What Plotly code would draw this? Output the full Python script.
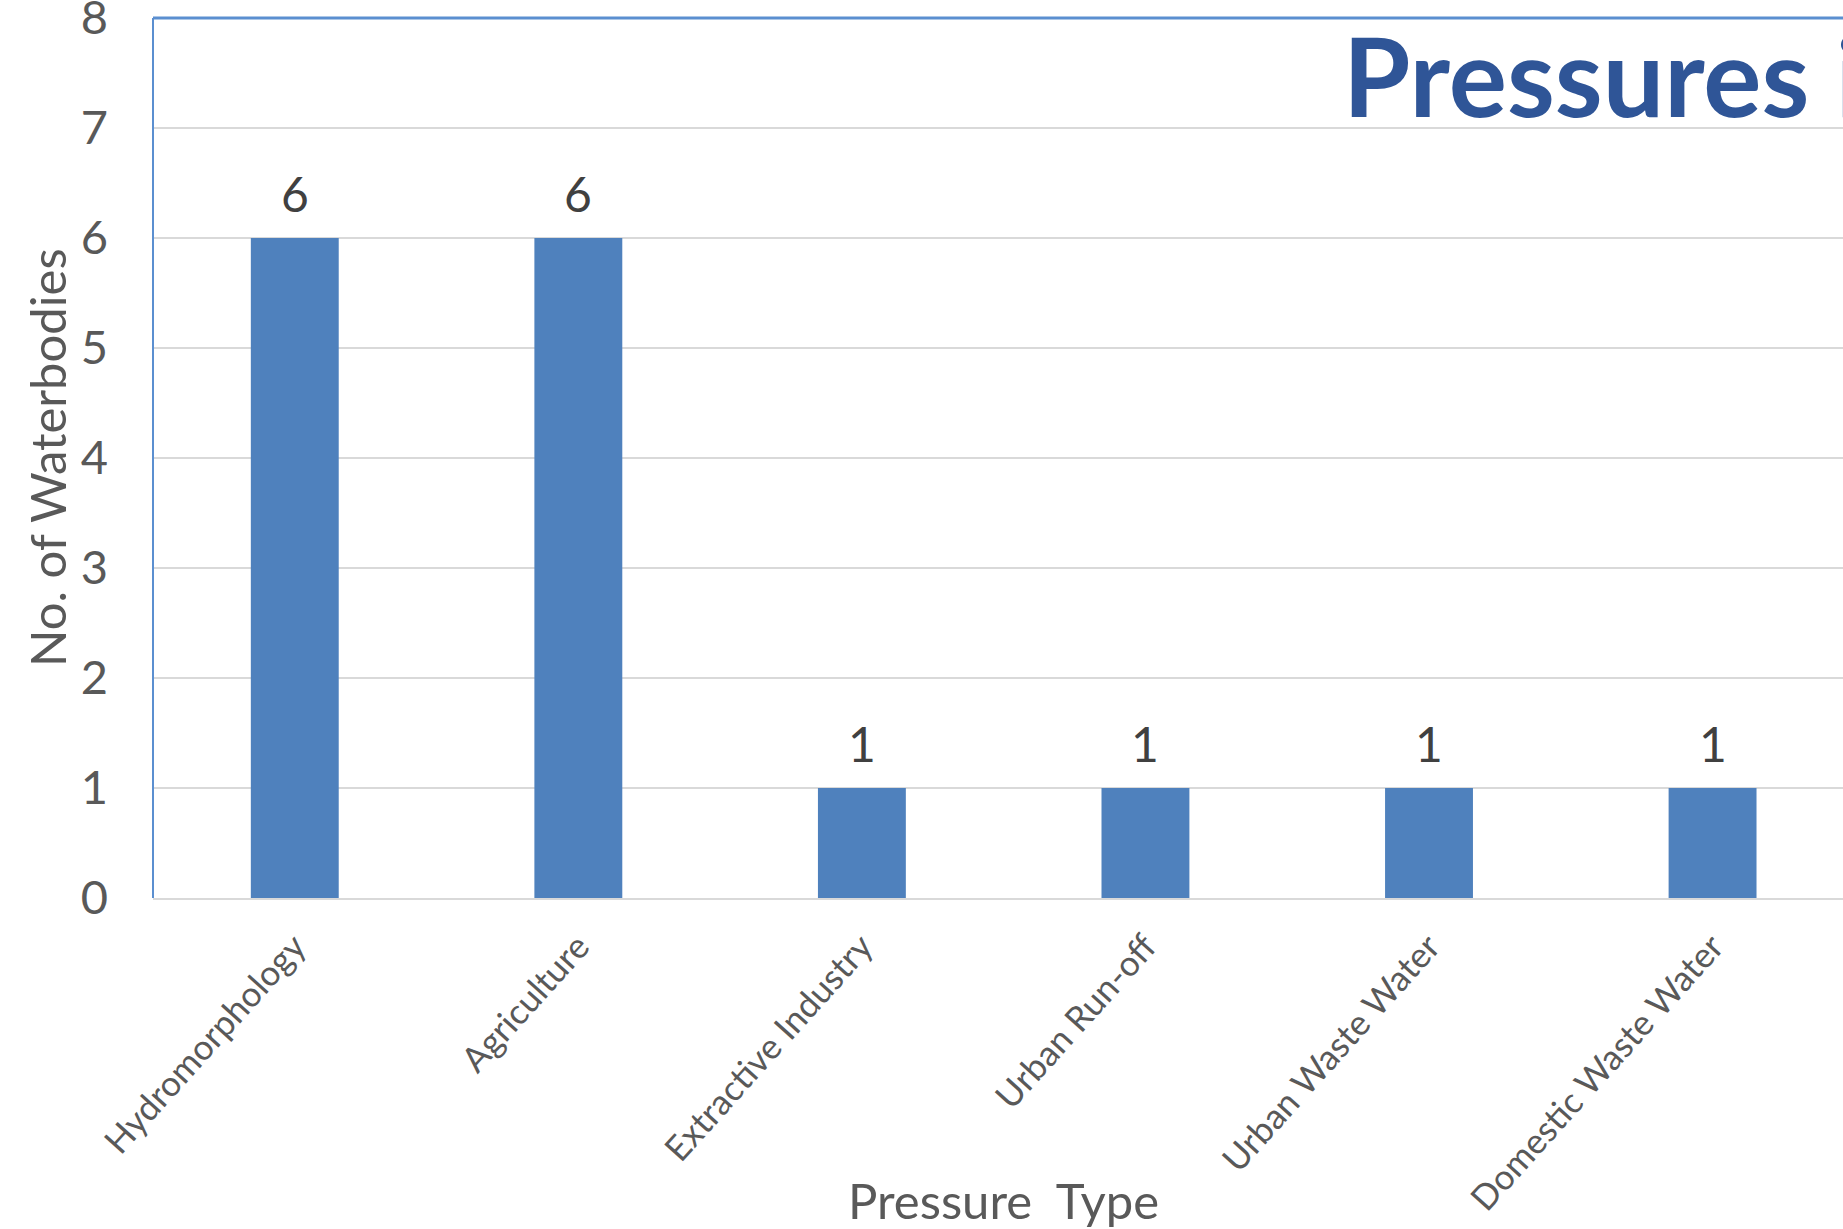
import plotly.graph_objects as go

categories = ["Hydromorphology", "Agriculture", "Extractive Industry",
              "Urban Run-off", "Urban Waste Water", "Domestic Waste Water"]
values = [6, 6, 1, 1, 1, 1]
y_ticks = [0, 1, 2, 3, 4, 5, 6, 7, 8]

BAR = "#4F81BD"
GRID = "#D9D9D9"
TXT = "#595959"
FONT = "Lato, Carlito, Calibri, sans-serif"

W, H = 1843, 1229
L, T, B = 153, 18, 331
PW, PH = W - L, H - T - B

fig = go.Figure(go.Bar(
    x=categories, y=values,
    marker=dict(color=BAR, line=dict(width=0)),
    width=0.31,
))

label_anns = [
    dict(x=c, y=v, xref="x", yref="y", text=str(v), showarrow=False,
         xanchor="center", yanchor="bottom", yshift=14,
         font=dict(size=48, color="#404040", family=FONT))
    for c, v in zip(categories, values)
]

fig.update_layout(
    width=W, height=H,
    margin=dict(l=L, r=0, t=T, b=B),
    plot_bgcolor="white", paper_bgcolor="white",
    showlegend=False,
    font=dict(family=FONT, color=TXT),
    xaxis=dict(
        range=[-0.5, 5.46], tickangle=-48, automargin=False,
        tickfont=dict(size=35, color=TXT, family=FONT),
        showgrid=False, showline=True, linecolor=GRID, linewidth=2,
        ticks="", ticklabelstandoff=12,
    ),
    yaxis=dict(
        range=[0, 8], tickvals=y_ticks, automargin=False,
        tickfont=dict(size=47, color=TXT, family=FONT),
        showgrid=True, gridcolor=GRID, gridwidth=2,
        zeroline=False, showline=False, ticks="", ticklabelstandoff=44,
        ticklabeloverflow="allow",
    ),
    shapes=[
        dict(type="line", xref="paper", yref="paper", x0=0, x1=0, y0=0, y1=1,
             line=dict(color="#5B8FD0", width=2)),
        dict(type="line", xref="paper", yref="paper", x0=0, x1=1, y0=1, y1=1,
             line=dict(color="#5B8FD0", width=3)),
    ],
    annotations=label_anns + [
        dict(text="<b>Pressures i</b>", xref="paper", yref="y", x=0.703, y=7.49,
             xanchor="left", yanchor="middle", showarrow=False,
             font=dict(size=109, color="#2F5597", family=FONT)),
        dict(text="No. of Waterbodies", xref="paper", yref="paper",
             x=(47 - L) / PW, y=0.5, textangle=-90,
             xanchor="center", yanchor="middle", showarrow=False,
             font=dict(size=49, color=TXT, family=FONT)),
        dict(text="Pressure\u00a0 Type", xref="paper", yref="paper",
             x=(1003 - L) / PW, y=-(1200 - (T + PH)) / PH,
             xanchor="center", yanchor="middle", showarrow=False,
             font=dict(size=49, color=TXT, family=FONT)),
    ],
)

fig.write_html("out.html", config={"displayModeBar": False},
               post_script="document.body.style.margin='0';")
